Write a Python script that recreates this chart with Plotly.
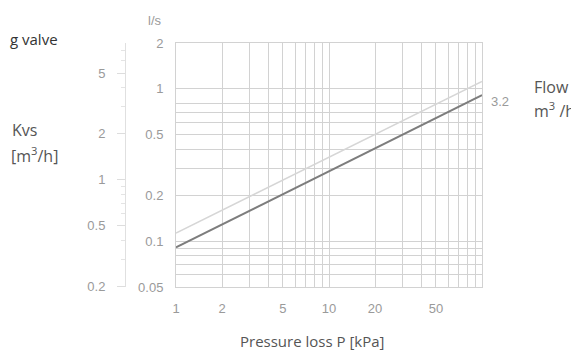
import plotly.graph_objects as go
import math

# ---- data ----
pressure_kpa = [1, 100]
flow_kvs32 = [0.091, 0.91]      # dark line, l/s (label 3.2)
flow_upper = [0.113, 1.12]      # light line, l/s
kvs_label = "3.2"

p_ticks = [1, 2, 5, 10, 20, 50]
p_ticklabels = ["1", "2", "5", "10", "20", "50"]
p_minor = [3, 4, 6, 7, 8, 9, 30, 40, 60, 70, 80, 90, 100]

ls_ticks = [0.05, 0.1, 0.2, 0.5, 1, 2]
ls_ticklabels = ["0.05", "0.1", "0.2", "0.5", "1", "2"]
ls_minor = [0.06, 0.07, 0.08, 0.09, 0.3, 0.4, 0.6, 0.7, 0.8]

kvs_ticks = [0.2, 0.5, 1, 2, 5]
kvs_ticklabels = ["0.2", "0.5", "1", "2", "5"]
kvs_minor = [0.3, 0.4, 0.6, 0.7, 0.8, 0.9, 3, 4, 6, 7]
kvs_range = [0.197, 7.87]

# ---- layout geometry (page pixels; page has an 8px body margin) ----
OFF = 8
W, H = 579 - OFF, 356 - OFF
PLOT_LEFT, PLOT_RIGHT, PLOT_TOP, PLOT_BOTTOM = 176, 482, 43, 287
ML = 90 - OFF
MR = W - (PLOT_RIGHT - OFF)
MT = PLOT_TOP - OFF
MB = H - (PLOT_BOTTOM - OFF)
PW, PH = W - ML - MR, H - MT - MB
KVS_AXIS_X = 125

def px(x):
    return (x - OFF - ML) / PW

def py(y):
    return (H - MB - (y - OFF)) / PH

GRID = "#d2d2d2"
TICKC = "#9a9a9a"
TXT = "#555555"
FONT = "Open Sans"
TFONT = "Liberation Sans"

fig = go.Figure()
fig.add_trace(go.Scatter(x=pressure_kpa, y=flow_upper, mode="lines",
                         line=dict(color="#d6d6d6", width=1.5), showlegend=False))
fig.add_trace(go.Scatter(x=pressure_kpa, y=flow_kvs32, mode="lines",
                         line=dict(color="#7d7d7d", width=2), showlegend=False))
# invisible trace to bind the Kvs axis
fig.add_trace(go.Scatter(x=[pressure_kpa[0]], y=[kvs_ticks[2]], yaxis="y2", mode="markers",
                         marker=dict(opacity=0), showlegend=False, hoverinfo="skip"))

fig.update_layout(
    width=W, height=H,
    margin=dict(l=ML, r=MR, t=MT, b=MB),
    paper_bgcolor="white", plot_bgcolor="white",
    font=dict(family=FONT, color=TXT),
    xaxis=dict(
        type="log", range=[math.log10(1), math.log10(100)],
        domain=[px(PLOT_LEFT), 1],
        tickmode="array", tickvals=p_ticks, ticktext=p_ticklabels,
        showgrid=True, gridcolor=GRID, gridwidth=1,
        minor=dict(tickmode="array", tickvals=p_minor, showgrid=True, gridcolor=GRID, gridwidth=1),
        showline=True, linecolor=GRID, mirror=True, zeroline=False,
        ticks="", ticklabelstandoff=9,
        tickfont=dict(family=TFONT, size=13, color=TICKC),
    ),
    yaxis=dict(
        type="log", range=[math.log10(0.05), math.log10(2)],
        tickmode="array", tickvals=ls_ticks, ticktext=ls_ticklabels,
        showgrid=True, gridcolor=GRID, gridwidth=1,
        minor=dict(tickmode="array", tickvals=ls_minor, showgrid=True, gridcolor=GRID, gridwidth=1),
        showline=True, linecolor=GRID, mirror=True, zeroline=False,
        ticks="", ticklabelstandoff=9,
        tickfont=dict(family=TFONT, size=13, color=TICKC),
    ),
    yaxis2=dict(
        type="log", range=[math.log10(kvs_range[0]), math.log10(kvs_range[1])],
        overlaying="y", anchor="free", side="left", position=px(KVS_AXIS_X),
        tickmode="array", tickvals=kvs_ticks, ticktext=kvs_ticklabels,
        showgrid=False, zeroline=False,
        showline=True, linecolor="#e0e0e0",
        ticks="outside", ticklen=8, tickcolor="#dddddd",
        minor=dict(tickmode="array", tickvals=kvs_minor, ticks="outside", ticklen=4, tickcolor="#e4e4e4"),
        ticklabelstandoff=9,
        tickfont=dict(family=TFONT, size=13, color=TICKC),
    ),
)

ann = [
    dict(text="g valve", x=px(8), y=py(39), xanchor="left", font=dict(size=15, color="#333333")),
    dict(text="Kvs", x=px(10), y=py(130), xanchor="left", font=dict(size=16, color=TXT)),
    dict(text="[m<sup>3</sup>/h]", x=px(9), y=py(155), xanchor="left", font=dict(size=16, color=TXT)),
    dict(text="Flow", x=px(532), y=py(87), xanchor="left", font=dict(size=16, color=TXT)),
    dict(text="m<sup>3</sup> /h", x=px(532), y=py(110), xanchor="left", font=dict(size=16, color=TXT)),
    dict(text="l/s", x=px(155), y=py(20), xanchor="center",
         font=dict(family=TFONT, size=13, color=TICKC)),
    dict(text="Pressure loss P [kPa]", x=px(312), y=py(341), xanchor="center", font=dict(size=15, color=TXT)),
]
for a in ann:
    fig.add_annotation(xref="paper", yref="paper", showarrow=False, yanchor="middle", **a)

fig.add_annotation(x=math.log10(pressure_kpa[-1]), y=math.log10(flow_kvs32[-1]), xref="x", yref="y",
                   text=kvs_label, showarrow=False, xanchor="left", yanchor="middle",
                   xshift=7, yshift=-6, font=dict(family=TFONT, size=13, color=TICKC))

fig.write_html("out.html")
